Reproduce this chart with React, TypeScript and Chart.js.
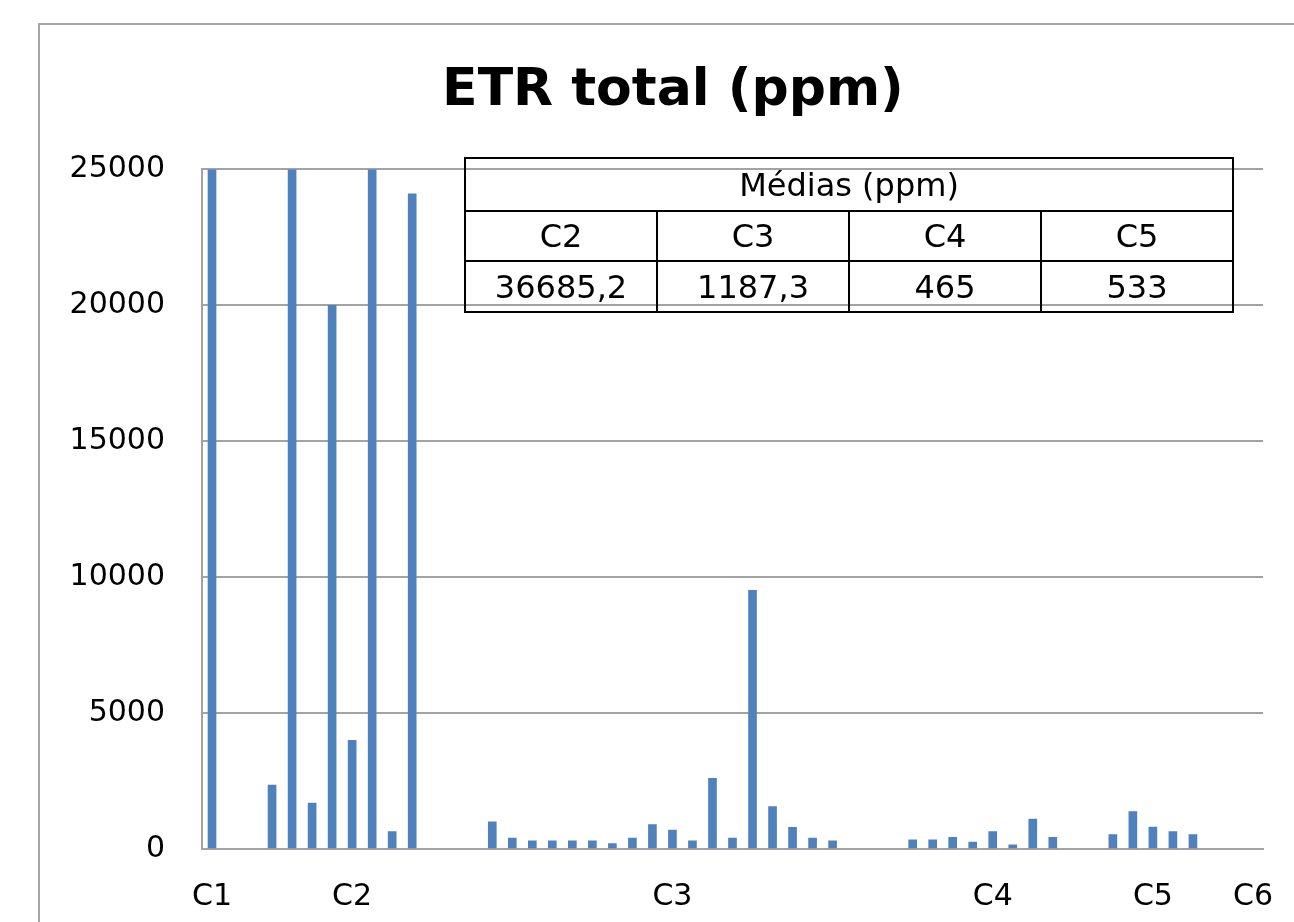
import React, { useEffect, useRef } from "react";
import { Chart, registerables } from "chart.js";

Chart.register(...registerables);

const chartTitle = "ETR total (ppm)";

const categories: string[] = [
  "C1", "", "", "", "", "", "", "C2", "", "", "",
  "", "", "", "", "", "", "", "", "", "",
  "", "", "C3", "", "", "", "", "", "", "",
  "", "", "", "", "", "", "", "", "C4", "",
  "", "", "", "", "", "", "C5", "", "", "",
  "", "C6",
];

const etrValues: (number | null)[] = [
  30000, null, null, 2350, 120000, 1690, 20000, 4000, 120700, 640, 24100,
  null, null, null, 1000, 400, 300, 300, 300, 300, 200,
  400, 900, 700, 300, 2600, 400, 9520, 1560, 800, 400,
  300, null, null, null, 340, 340, 430, 250, 640, 150,
  1100, 430, null, null, 530, 1380, 810, 640, 530, null,
  null, null,
];

const yTicks = [0, 5000, 10000, 15000, 20000, 25000];

const tableTitle = "Médias (ppm)";
const tableGroups = ["C2", "C3", "C4", "C5"];
const tableMeans = ["36685,2", "1187,3", "465", "533"];

const GRID = "#a3a3a3";
const FONT = "'DejaVu Sans', sans-serif";

export default function App() {
  const canvasRef = useRef<HTMLCanvasElement | null>(null);

  useEffect(() => {
    const canvas = canvasRef.current;
    if (!canvas) return;
    const chart = new Chart(canvas, {
      type: "bar",
      data: {
        labels: categories,
        datasets: [
          {
            data: etrValues as any,
            backgroundColor: "#4F81BD",
            borderWidth: 0,
            barThickness: 8,
            clip: 0 as any,
          },
        ],
      },
      options: {
        responsive: false,
        animation: false,
        devicePixelRatio: 1,
        layout: { padding: { left: 52, right: 0, top: 26, bottom: 0 } },
        plugins: {
          legend: { display: false },
          tooltip: { enabled: false },
          title: {
            display: true,
            text: chartTitle,
            color: "#000",
            font: { family: FONT, size: 52, weight: "bold" },
            padding: { top: 34, bottom: 47 },
          },
        },
        scales: {
          x: {
            grid: { display: false, drawTicks: false },
            border: { display: true, color: GRID, width: 2 },
            ticks: {
              autoSkip: false,
              maxRotation: 0,
              minRotation: 0,
              color: "#000",
              font: { family: FONT, size: 30 },
              padding: 30,
            },
            afterFit: (s: any) => {
              s.height = 73;
              s.paddingLeft = 0;
              s.paddingRight = 31;
            },
          },
          y: {
            min: 0,
            max: 25000,
            afterBuildTicks: (s: any) => {
              s.ticks = yTicks.map((v) => ({ value: v }));
            },
            grid: { color: GRID, lineWidth: 2, drawTicks: false },
            border: { display: true, color: GRID, width: 2 },
            ticks: {
              color: "#000",
              font: { family: FONT, size: 30 },
              padding: 37,
              callback: (v: any) => String(v),
            },
            afterFit: (s: any) => {
              s.width = 150;
            },
          },
        },
      },
    });
    return () => chart.destroy();
  }, []);

  const cell: React.CSSProperties = {
    border: "2px solid #000",
    textAlign: "center",
    verticalAlign: "middle",
    padding: 0,
    fontFamily: FONT,
    fontSize: 32,
    color: "#000",
    width: "25%",
  };

  return (
    <div
      style={{
        position: "fixed",
        left: 0,
        top: 0,
        width: 1294,
        height: 922,
        overflow: "hidden",
        background: "#fff",
      }}
    >
      <div
        style={{
          position: "absolute",
          left: 38,
          top: 23,
          width: 1400,
          height: 1000,
          border: "2px solid #a6a6a6",
        }}
      />
      <canvas
        ref={canvasRef}
        width={1294}
        height={922}
        style={{ position: "absolute", left: 0, top: 0, width: 1294, height: 922 }}
      />
      <table
        style={{
          position: "absolute",
          left: 464,
          top: 157,
          width: 770,
          height: 155,
          borderCollapse: "collapse",
          background: "transparent",
          tableLayout: "fixed",
        }}
      >
        <tbody>
          <tr style={{ height: 53 }}>
            <td colSpan={4} style={{ ...cell, width: "auto" }}>
              {tableTitle}
            </td>
          </tr>
          <tr style={{ height: 50 }}>
            {tableGroups.map((g) => (
              <td key={g} style={cell}>
                {g}
              </td>
            ))}
          </tr>
          <tr style={{ height: 51 }}>
            {tableMeans.map((m, i) => (
              <td key={i} style={cell}>
                {m}
              </td>
            ))}
          </tr>
        </tbody>
      </table>
    </div>
  );
}
